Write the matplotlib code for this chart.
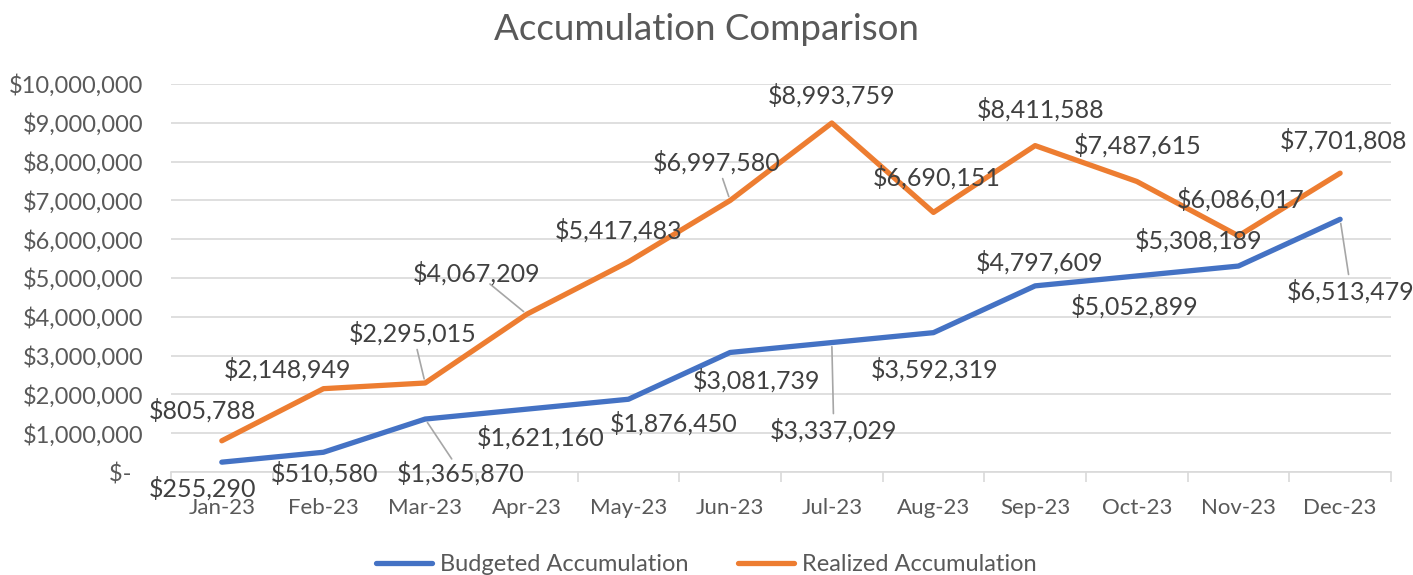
import numpy as np
import matplotlib.pyplot as plt
from matplotlib.ticker import FuncFormatter, FixedLocator

plt.rcParams['font.family'] = ['Lato', 'DejaVu Sans']

months = ["Jan-23", "Feb-23", "Mar-23", "Apr-23", "May-23", "Jun-23",
          "Jul-23", "Aug-23", "Sep-23", "Oct-23", "Nov-23", "Dec-23"]
budgeted = [255290, 510580, 1365870, 1621160, 1876450, 3081739,
            3337029, 3592319, 4797609, 5052899, 5308189, 6513479]
realized = [805788, 2148949, 2295015, 4067209, 5417483, 6997580,
            8993759, 6690151, 8411588, 7487615, 6086017, 7701808]

# label offsets in pixels (dx, dy), positive dy = up; True = leader line
budget_off = [(-19, -26, False), (1, -21, False), (36, -54, True), (14, -28, False),
              (45, -24, False), (26, -28, False), (2, -88, True), (1, -37, False),
              (4, 24, False), (-2, -30, False), (-40, 26, False), (11, -72, True)]
real_off = [(-19, 30, False), (-36, 19, False), (-12, 50, True), (-50, 41, True),
            (-10, 31, False), (-13, 38, True), (0, 28, False), (3, 35, False),
            (5, 36, False), (1, 36, False), (2, 36, False), (3, 33, False)]

blue = "#4472C4"
orange = "#ED7D31"
txt = "#404040"
grid = "#D9D9D9"

fig = plt.figure(figsize=(14.13, 5.75), dpi=100)
ax = fig.add_axes([0.121, 0.179, 0.8634, 0.675])

x = np.arange(len(months))
ax.plot(x, budgeted, color=blue, lw=3.8, solid_capstyle="round",
        label="Budgeted Accumulation", zorder=3)
ax.plot(x, realized, color=orange, lw=3.8, solid_capstyle="round",
        label="Realized Accumulation", zorder=3)


def label(xi, v, off):
    dx, dy, lead = off
    ax.annotate(f"${v:,.0f}", (xi, v), xytext=(dx, dy), textcoords="offset pixels",
                ha="center", va="center", fontsize=18, color=txt, zorder=4)
    if lead:
        # short leader from the point toward the label
        d = np.hypot(dx, dy)
        end = d - 17
        ax.annotate("", xy=(xi, v), xycoords="data",
                    xytext=(dx / d * end, dy / d * end), textcoords="offset pixels",
                    arrowprops=dict(arrowstyle="-", color="#A6A6A6", lw=1.2,
                                    shrinkA=0, shrinkB=3))


for i in range(len(months)):
    label(x[i], budgeted[i], budget_off[i])
    label(x[i], realized[i], real_off[i])

ax.set_xlim(-0.5, len(months) - 0.5)
ax.set_ylim(0, 10000000)
ax.set_yticks(np.arange(0, 10000001, 1000000))
ax.yaxis.set_major_formatter(FuncFormatter(lambda v, p: "$-  " if v == 0 else f"${v:,.0f}"))
ax.set_xticks(x)
ax.set_xticklabels(months)
ax.xaxis.set_minor_locator(FixedLocator(np.arange(-0.5, len(months), 1)))
ax.tick_params(axis="x", which="major", length=0, pad=19, labelsize=16, labelcolor="#595959")
ax.tick_params(axis="x", which="minor", length=7, color=grid, width=1.2)
ax.tick_params(axis="y", length=0, pad=20, labelsize=17, labelcolor="#595959")
ax.grid(axis="y", color=grid, lw=1.2, zorder=0)
for s in ["top", "right", "left"]:
    ax.spines[s].set_visible(False)
ax.spines["bottom"].set_color(grid)
ax.spines["bottom"].set_linewidth(1.2)

fig.suptitle("Accumulation Comparison", y=0.977, fontsize=26.5, color="#595959")
fig.legend(loc="lower center", bbox_to_anchor=(0.5, -0.037), ncol=2, frameon=False,
           fontsize=17, handlelength=2.35, handletextpad=0.35, columnspacing=2.1,
           labelcolor="#595959")

fig.savefig("out.png", dpi=100)
